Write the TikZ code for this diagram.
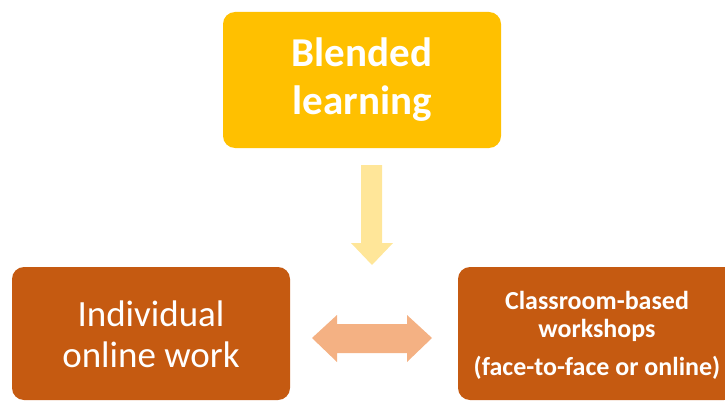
\documentclass[tikz,border=0pt]{standalone}
\usepackage{fontspec}
\setmainfont{Carlito}
\definecolor{topyellow}{HTML}{FFC000}
\definecolor{arrowyellow}{HTML}{FFE699}
\definecolor{boxorange}{HTML}{C55A11}
\definecolor{arroworange}{HTML}{F4B183}
\tikzset{
  box/.style={rectangle, rounded corners=12pt, inner sep=0pt, draw=none},
  txt/.style={text=white, anchor=base, inner sep=0pt},
}
\begin{document}
\begin{tikzpicture}[x=1pt,y=-1pt]
\useasboundingbox (0,0) rectangle (725,401);
\clip (0,0) rectangle (725,401);
% boxes
\node[box, fill=topyellow, minimum width=278pt, minimum height=136pt] (top) at (362,80) {};
\node[box, fill=boxorange, minimum width=278pt, minimum height=133pt] (left) at (151,333.5) {};
\node[box, fill=boxorange, minimum width=278pt, minimum height=133pt] (right) at (597,333.5) {};
% texts
\node[txt, font=\fontsize{41}{48}\selectfont\bfseries] (t1) at (362,67) {Blended};
\node[txt, font=\fontsize{41}{48}\selectfont\bfseries] (t2) at (362,115) {learning};
\node[txt, font=\fontsize{37}{44}\selectfont] (l1) at (151,326) {Individual};
\node[txt, font=\fontsize{37}{44}\selectfont] (l2) at (151,367) {online work};
\node[txt, font=\fontsize{26}{30}\selectfont\bfseries] (r1) at (597,309) {Classroom-based};
\node[txt, font=\fontsize{26}{30}\selectfont\bfseries] (r2) at (597,337) {workshops};
\node[txt, font=\fontsize{26}{30}\selectfont\bfseries] (r3) at (597,375) {(face-to-face or online)};
% down block arrow
\fill[arrowyellow] (361,165) -- (382,165) -- (382,243) -- (393,243) -- (372,265) -- (351,243) -- (361,243) -- cycle;
% double block arrow
\fill[arroworange] (312,338) -- (337,315) -- (337,324) -- (407,324) -- (407,315) -- (432,338)
  -- (407,362) -- (407,353) -- (337,353) -- (337,362) -- cycle;
\end{tikzpicture}
\end{document}
